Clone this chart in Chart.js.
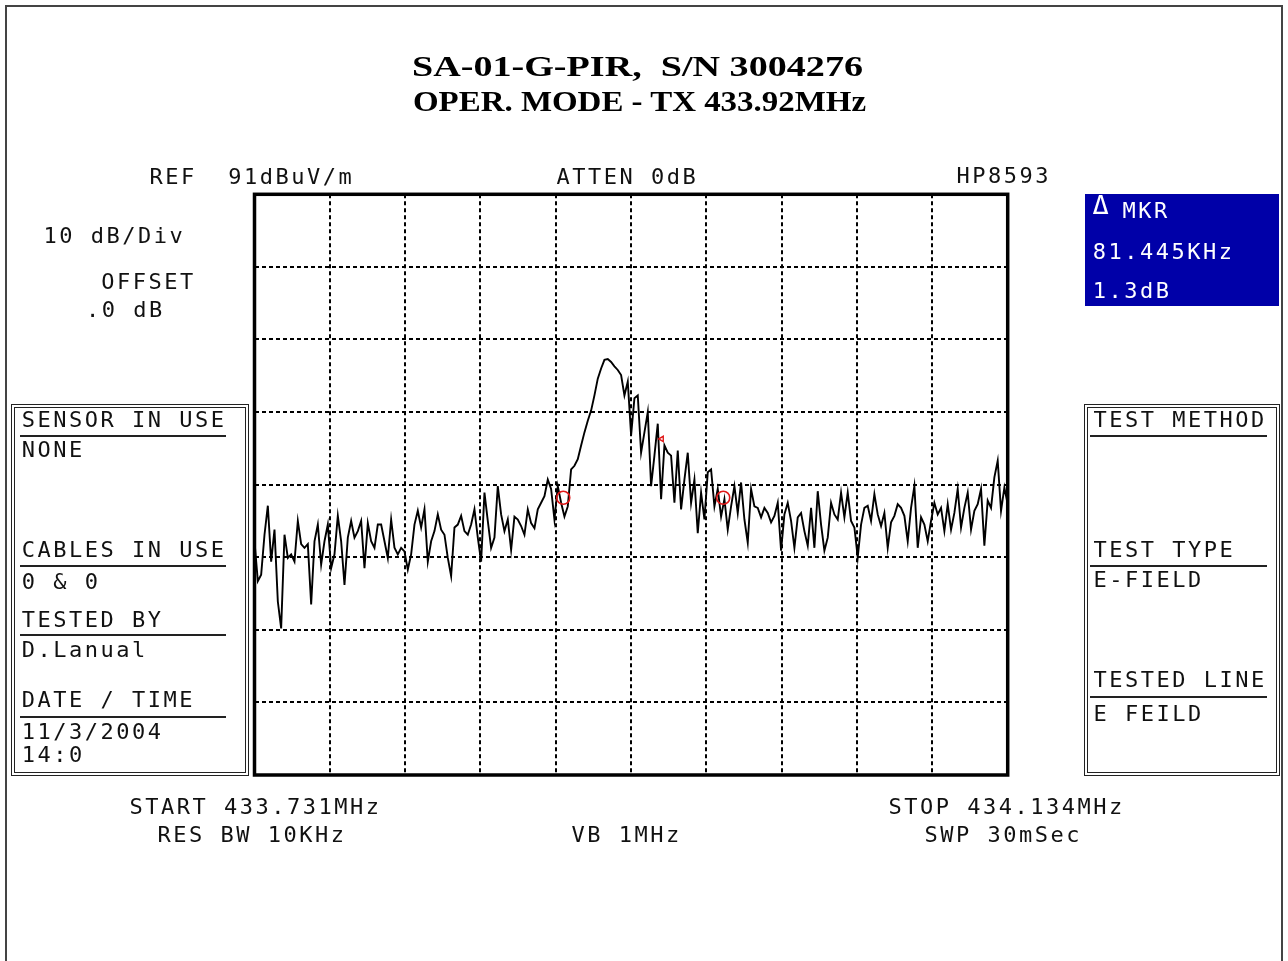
<!DOCTYPE html>
<html>
<head>
<meta charset="utf-8">
<title>SA-01-G-PIR spectrum</title>
<script src="https://cdn.jsdelivr.net/npm/chart.js@4.4.1/dist/chart.umd.min.js"></script>
<style>
html,body{margin:0;padding:0;background:#fff;}
body{width:1288px;height:961px;overflow:hidden;position:relative;font-family:"DejaVu Sans Mono",monospace;}
#frame{position:absolute;left:5px;top:5px;width:1278px;height:1010px;border:2px solid #444;box-sizing:border-box;}
#c{position:absolute;left:0;top:0;}
.t{position:absolute;white-space:pre;font-family:"DejaVu Sans Mono",monospace;font-size:22px;line-height:22px;letter-spacing:2.5px;color:#111;}
.w{color:#fff;}
.big{font-size:27px;line-height:27px;}
.title{position:absolute;white-space:pre;font-family:"Liberation Serif",serif;font-weight:bold;font-size:30px;line-height:30px;color:#000;transform-origin:0 50%;}
.box{position:absolute;border:4px double #222;box-sizing:border-box;}
.rule{position:absolute;height:2px;background:#222;}
#mkr{position:absolute;left:1085px;top:194px;width:194px;height:112px;background:#0000a8;}
</style>
</head>
<body>
<div id="frame"></div>
<div class="box" style="left:11px;top:404px;width:238px;height:372px;"></div>
<div class="box" style="left:1084px;top:404px;width:196px;height:372px;"></div>
<div id="mkr"></div>
<canvas id="c" width="1288" height="961"></canvas>
<script>
// ---- sweep settings ----
const startMHz = 433.731;
const stopMHz = 434.134;
const xDivisions = 10;
const yTickValues = [11, 21, 31, 41, 51, 61, 71, 81, 91]; // dBuV/m, REF 91, 10 dB/Div

// ---- trace levels (dBuV/m), evenly spaced across the sweep ----
const traceDb = [
  43.2, 37.7, 38.6, 44.1, 48.1, 40.4, 44.8, 34.9, 31.2, 44.1,
  40.9, 41.4, 40.4, 46.0, 42.8, 42.3, 42.8, 34.5, 43.2, 45.5,
  40.0, 43.2, 45.5, 39.5, 41.4, 46.7, 43.2, 37.2, 43.7, 46.0,
  43.7, 44.6, 46.0, 39.5, 45.7, 43.2, 42.3, 45.5, 45.5, 43.2,
  40.9, 46.2, 42.3, 41.4, 42.3, 41.8, 39.3, 41.4, 45.5, 47.4,
  45.1, 47.6, 40.4, 43.2, 44.6, 46.9, 44.8, 44.1, 40.9, 38.4,
  45.1, 45.5, 46.7, 44.6, 44.1, 45.5, 47.6, 43.7, 40.4, 49.9,
  46.0, 42.3, 43.7, 50.8, 46.9, 44.6,
  46.2, 42.0, 46.6, 46.2, 45.3, 44.1, 47.6, 45.7, 45.0, 47.6,
  48.5, 49.4, 51.7, 50.4, 46.2, 50.8, 48.5, 46.6, 48.0, 53.1,
  53.6, 54.5, 56.4, 58.2, 59.8, 61.2, 63.3, 65.6, 67.0, 68.2,
  68.3, 67.9, 67.3, 66.8, 66.1, 63.3, 65.2, 57.8, 62.9, 63.3,
  55.4, 58.2, 61.0, 50.8, 55.0, 59.4, 49.0, 56.4, 55.4, 55.0,
  48.5, 55.7, 47.6, 51.7, 55.4, 48.5, 51.7, 44.3, 49.9, 46.2,
  52.7, 53.1, 48.0, 50.4, 46.6, 49.0, 44.8, 48.0, 50.8, 47.1,
  51.3, 46.2, 43.0, 50.4, 48.0,
  47.8, 46.5, 47.8, 47.1, 45.8, 46.7, 48.5, 41.9, 46.9, 48.5,
  46.0, 42.3, 46.5, 47.1, 44.6, 42.6, 47.8, 42.3, 50.1, 45.5,
  41.9, 43.7, 48.5, 46.9, 46.2, 49.9, 46.5, 49.9, 46.0, 45.1,
  41.0, 45.5, 47.8, 48.1, 46.0, 49.7, 46.9, 45.3, 47.1, 42.3,
  45.8, 46.7, 48.3, 47.8, 46.7, 43.2, 47.8, 50.8, 42.3, 46.5,
  45.5, 43.2, 46.0, 48.5, 46.9, 47.8, 44.6, 48.3, 44.8, 47.1,
  50.4, 45.1, 47.8, 49.9, 44.8, 47.4, 48.3, 50.4, 42.6, 48.8,
  47.8, 52.0, 54.3, 47.4, 50.6, 48.3
];

// ---- markers ----
const markerFreqMHz = [433.8962, 433.9818];
const markerDb = [49.2, 49.2];
const refMarkFreqMHz = [433.9489];
const refMarkDb = [57.3];

// ---- text ----
const titleLines = ["SA-01-G-PIR,  S/N 3004276", "OPER. MODE - TX 433.92MHz"];
const headerTexts = ["REF  91dBuV/m", "ATTEN 0dB", "HP8593"];
const leftTexts = ["10 dB/Div", "OFFSET", ".0 dB"];
const sensorBox = ["SENSOR IN USE", "NONE", "CABLES IN USE", "0 & 0", "TESTED BY", "D.Lanual", "DATE / TIME", "11/3/2004", "14:0"];
const methodBox = ["TEST METHOD", "TEST TYPE", "E-FIELD", "TESTED LINE", "E FEILD"];
const markerBox = ["\u0394", "MKR", "81.445KHz", "1.3dB"];
const footerTexts = ["START 433.731MHz", "RES BW 10KHz", "VB 1MHz", "STOP 434.134MHz", "SWP 30mSec"];

// ---- page text helpers ----
function lab(text, x, yc, extra) {
  const d = document.createElement('div');
  d.className = 't' + (extra ? ' ' + extra : '');
  d.textContent = text;
  d.style.left = (x - 1.5) + 'px';
  document.body.appendChild(d);
  const size = parseFloat(getComputedStyle(d).fontSize) || 22;
  d.style.top = (yc - size * 0.482) + 'px';
  return d;
}
function title(text, x, yc, width) {
  const d = document.createElement('div');
  d.className = 'title';
  d.textContent = text;
  d.style.left = x + 'px';
  d.style.top = (yc - 15.3) + 'px';
  document.body.appendChild(d);
  const w = d.getBoundingClientRect().width;
  if (w > 0) d.style.transform = 'scaleX(' + (width / w) + ')';
  return d;
}
function rule(x1, x2, y) {
  const d = document.createElement('div');
  d.className = 'rule';
  d.style.left = x1 + 'px';
  d.style.width = (x2 - x1) + 'px';
  d.style.top = (y - 1) + 'px';
  document.body.appendChild(d);
}

title(titleLines[0], 412, 66.7, 451);
title(titleLines[1], 413, 101.7, 453);

lab(headerTexts[0], 151, 176.3);
lab(headerTexts[1], 558, 177);
lab(headerTexts[2], 958, 175.5);

lab(leftTexts[0], 45, 235.5);
lab(leftTexts[1], 102.7, 281.5);
lab(leftTexts[2], 87.5, 310);

const sensorY = [420, 450, 550, 581.7, 620, 650, 700, 731.7, 755];
sensorBox.forEach((s, i) => lab(s, 23.3, sensorY[i]));
rule(20, 226, 435.7); rule(20, 226, 566); rule(20, 226, 635); rule(20, 226, 716.7);

const methodY = [420, 550, 580, 680, 714];
methodBox.forEach((s, i) => lab(s, 1095, methodY[i]));
rule(1090, 1267, 435.7); rule(1090, 1267, 566); rule(1090, 1267, 696.7);

lab(markerBox[0], 1094, 204, 'w big');
lab(markerBox[1], 1124, 210.5, 'w');
lab(markerBox[2], 1094.3, 251.3, 'w');
lab(markerBox[3], 1094.3, 290.8, 'w');

lab(footerTexts[0], 131, 807);
lab(footerTexts[1], 159, 835);
lab(footerTexts[2], 573, 835);
lab(footerTexts[3], 890, 807);
lab(footerTexts[4], 926, 835);

// ---- chart ----
const step = (stopMHz - startMHz) / (traceDb.length - 1);
const xTickValues = Array.from({length: xDivisions + 1}, (_, k) => startMHz + k * (stopMHz - startMHz) / xDivisions);

const framePlugin = {
  id: 'graticuleFrame',
  beforeDatasetsDraw(chart) {
    const {ctx, chartArea: a} = chart;
    ctx.save();
    ctx.strokeStyle = '#000';
    ctx.lineWidth = 3.5;
    ctx.strokeRect(a.left, a.top, a.right - a.left, a.bottom - a.top);
    ctx.restore();
  }
};

new Chart(document.getElementById('c'), {
  type: 'line',
  data: {
    datasets: [
      {
        label: 'Markers',
        type: 'scatter',
        data: markerFreqMHz.map((f, i) => ({x: f, y: markerDb[i]})),
        pointStyle: 'circle',
        pointRadius: 6.5,
        borderColor: '#e01818',
        backgroundColor: 'rgba(0,0,0,0)',
        borderWidth: 1.6,
        showLine: false,
        order: 0
      },
      {
        label: 'Ref marker',
        type: 'scatter',
        data: refMarkFreqMHz.map((f, i) => ({x: f, y: refMarkDb[i]})),
        pointStyle: 'triangle',
        rotation: -90,
        pointRadius: 3,
        borderColor: '#e01818',
        backgroundColor: 'rgba(0,0,0,0)',
        borderWidth: 1.4,
        showLine: false,
        order: 0
      },
      {
        label: 'Trace',
        data: traceDb.map((v, i) => ({x: startMHz + i * step, y: v})),
        borderColor: '#000',
        borderWidth: 1.9,
        pointRadius: 0,
        tension: 0,
        fill: false,
        order: 2
      }
    ]
  },
  options: {
    responsive: false,
    animation: false,
    devicePixelRatio: 1,
    layout: {padding: {left: 254.5, top: 194.3, right: 280.3, bottom: 186}},
    plugins: {legend: {display: false}, tooltip: {enabled: false}, title: {display: false}},
    scales: {
      x: {
        type: 'linear',
        min: startMHz,
        max: stopMHz,
        afterBuildTicks: s => { s.ticks = xTickValues.map(v => ({value: v})); },
        afterFit: s => { s.height = 0; },
        ticks: {display: false},
        grid: {color: '#000', lineWidth: 2, drawTicks: false},
        border: {display: false, dash: [4, 3]}
      },
      y: {
        type: 'linear',
        min: yTickValues[0],
        max: yTickValues[yTickValues.length - 1],
        afterBuildTicks: s => { s.ticks = yTickValues.map(v => ({value: v})); },
        afterFit: s => { s.width = 0; },
        ticks: {display: false},
        grid: {color: '#000', lineWidth: 2, drawTicks: false},
        border: {display: false, dash: [4, 3]}
      }
    }
  },
  plugins: [framePlugin]
});
</script>
</body>
</html>
